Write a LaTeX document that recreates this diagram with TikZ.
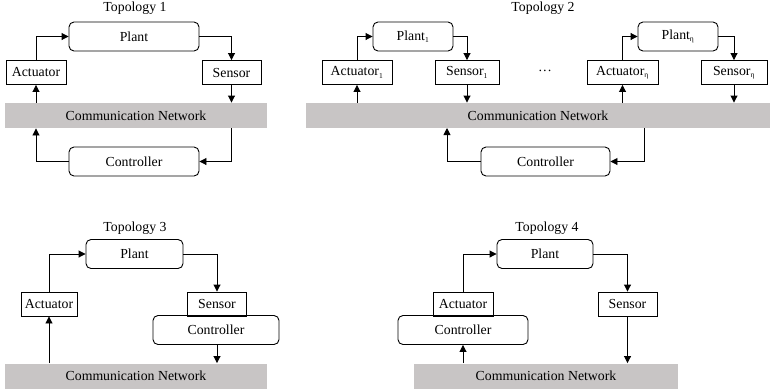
\documentclass[tikz,border=0pt]{standalone}
\usepackage{fontspec}
\setmainfont{Liberation Serif}
\usetikzlibrary{arrows.meta}
\definecolor{netgray}{RGB}{200,197,197}
\newcommand{\idx}[1]{\textsubscript{\fontsize{7.5}{8}\selectfont #1}}
\tikzset{
   box/.style={draw, minimum height=24, inner sep=0},
   rbox/.style={draw, rounded corners=5, minimum height=29, inner sep=0},
   net/.style={fill=netgray, minimum height=25, inner sep=0},
   flow/.style={-{Triangle[length=7pt,width=7pt]}}
}
\begin{document}
\begin{tikzpicture}[x=1pt, y=-1pt, line width=0.9pt,
      font=\fontsize{13.8}{16}\selectfont]
      \useasboundingbox (0,0) rectangle (770,389);
      \def \Titles {
         t1/135/8/1,
         t2/543/8/2,
         t3/135/228/3,
         t4/547/228/4}
      \def \Nets {
         n1/136/115.5/262,
         n2/538/115.5/464,
         n3/136/376/262,
         n4/546/376/264}
      \def \Boxes {
         a1/36/72.5/60/Actuator,
         s1/231.5/72.5/59/Sensor,
         a2/357/72.5/70/Actuator\idx{1},
         s2/467/72.5/64/Sensor\idx{1},
         a2n/622.5/72.5/71/Actuator\idx{η},
         s2n/734/72.5/66/Sensor\idx{η},
         a3/49/304/56/Actuator,
         s3/217/304/59/Sensor,
         a4/463/304/60/Actuator,
         s4/627.5/304/59/Sensor}
      \def \Rounds {
         p1/134/36.5/130/Plant,
         c1/134/161.5/130/Controller,
         p2/413/36.5/80/Plant\idx{1},
         p2n/678/36.5/80/Plant\idx{η},
         c2/545.5/161.5/129/Controller,
         p3/134.5/254/97/Plant,
         c3/216/330/126/Controller,
         p4/545/254/96/Plant,
         c4/463/330/130/Controller}
      \foreach \n / \x / \y / \k in \Titles {
         \node (\n) at (\x, \y) {Topology \k};
      }
      \foreach \n / \x / \y / \w in \Nets {
         \node[net, minimum width=\w] (\n) at (\x, \y) {Communication Network};
      }
      \foreach \n / \x / \y / \w / \txt in \Boxes {
         \node[box, minimum width=\w] (\n) at (\x, \y) {\txt};
      }
      \foreach \n / \x / \y / \w / \txt in \Rounds {
         \node[rbox, minimum width=\w] (\n) at (\x, \y) {\txt};
      }
      \node (dots) at (545, 73) {···};
      \coordinate (c2l) at (447, 128);
      \coordinate (c2r) at (644, 128);
      % topology 1
      \draw[flow] (a1.north) |- (p1.west);
      \draw[flow] (p1.east) -| (s1.north);
      \draw[flow] (s1.south) -- (s1.south |- n1.north);
      \draw[flow] (n1.south -| s1) |- (c1.east);
      \draw[flow] (c1.west) -| (n1.south -| a1);
      \draw[flow] (n1.north -| a1) -- (a1.south);
      % topology 2
      \foreach \a / \p / \s in {a2/p2/s2, a2n/p2n/s2n} {
         \draw[flow] (\a.north) |- (\p.west);
         \draw[flow] (\p.east) -| (\s.north);
         \draw[flow] (\s.south) -- (\s.south |- n2.north);
         \draw[flow] (n2.north -| \a) -- (\a.south);
      }
      \draw[flow] (c2r) |- (c2.east);
      \draw[flow] (c2.west) -| (c2l);
      % topology 3
      \draw[flow] (n3.north -| a3) -- (a3.south);
      \draw[flow] (a3.north) |- (p3.west);
      \draw[flow] (p3.east) -| (s3.north);
      \draw[flow] (c3.south -| s3) -- (n3.north -| s3);
      % topology 4
      \draw[flow] (a4.north) |- (p4.west);
      \draw[flow] (p4.east) -| (s4.north);
      \draw[flow] (s4.south) -- (s4.south |- n4.north);
      \draw[flow] (n4.north -| c4) -- (c4.south);
\end{tikzpicture}
\end{document}
